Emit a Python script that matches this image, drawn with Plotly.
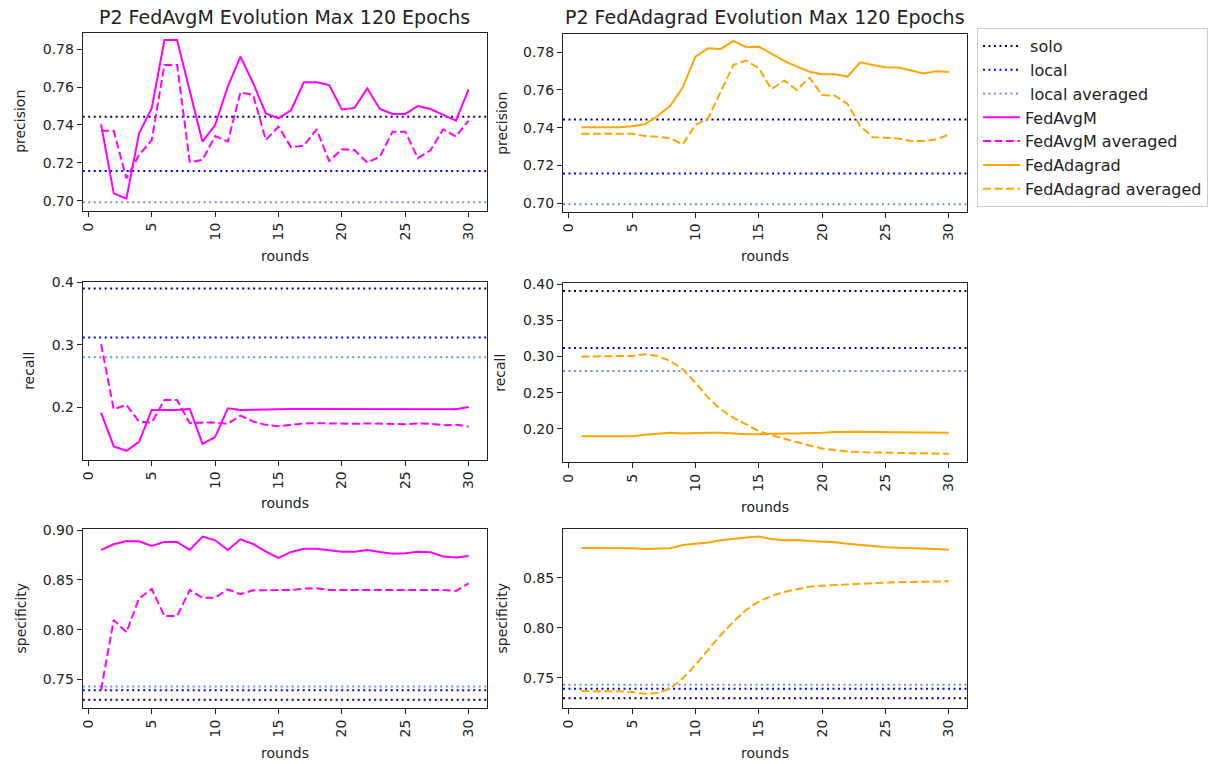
import plotly.graph_objects as go

W, H = 1215, 764
rounds = list(range(1, 31))

# reference lines (solo, local, local averaged)
ref_precision = [0.7443, 0.7157, 0.6993]
ref_recall = [0.3902, 0.3115, 0.2800]
ref_specificity = [0.7295, 0.7390, 0.7428]

fedavgm_precision = [0.7404, 0.7040, 0.7012, 0.7356, 0.7488, 0.7847, 0.7847, 0.7584, 0.7312, 0.7400,
                     0.7602, 0.7760, 0.7620, 0.7461, 0.7435, 0.7479, 0.7625, 0.7625, 0.7610, 0.7482,
                     0.7490, 0.7593, 0.7484, 0.7458, 0.7458, 0.7500, 0.7484, 0.7453, 0.7423, 0.7588]
fedavgm_precision_avg = [0.7370, 0.7370, 0.7119, 0.7242, 0.7321, 0.7716, 0.7716, 0.7204, 0.7216, 0.7342,
                         0.7312, 0.7572, 0.7558, 0.7321, 0.7391, 0.7282, 0.7291, 0.7377, 0.7210, 0.7272,
                         0.7268, 0.7202, 0.7233, 0.7365, 0.7365, 0.7225, 0.7268, 0.7377, 0.7339, 0.7423]
fedadagrad_precision = [0.7402, 0.7402, 0.7402, 0.7402, 0.7407, 0.7418, 0.7462, 0.7515, 0.7614, 0.7777,
                        0.7821, 0.7818, 0.7860, 0.7827, 0.7830, 0.7791, 0.7754, 0.7724, 0.7697, 0.7683,
                        0.7683, 0.7671, 0.7747, 0.7733, 0.7720, 0.7719, 0.7703, 0.7688, 0.7699, 0.7696]
fedadagrad_precision_avg = [0.7368, 0.7368, 0.7368, 0.7368, 0.7368, 0.7356, 0.7352, 0.7343, 0.7312, 0.7414,
                            0.7450, 0.7591, 0.7733, 0.7756, 0.7715, 0.7604, 0.7650, 0.7600, 0.7665, 0.7573,
                            0.7570, 0.7526, 0.7409, 0.7349, 0.7347, 0.7343, 0.7329, 0.7329, 0.7338, 0.7363]

fedavgm_recall = [0.1915, 0.1372, 0.1303, 0.1447, 0.1957, 0.1957, 0.1957, 0.1973, 0.1415, 0.1521,
                  0.1984, 0.1957, 0.1960, 0.1973, 0.1968, 0.1970, 0.1970, 0.1970, 0.1970, 0.1972,
                  0.1972, 0.1970, 0.1972, 0.1972, 0.1972, 0.1972, 0.1972, 0.1970, 0.1968, 0.2005]
fedavgm_recall_avg = [0.3010, 0.1968, 0.2037, 0.1771, 0.1755, 0.2117, 0.2117, 0.1745, 0.1755, 0.1755,
                      0.1734, 0.1867, 0.1771, 0.1718, 0.1697, 0.1718, 0.1740, 0.1745, 0.1740, 0.1734,
                      0.1734, 0.1740, 0.1734, 0.1723, 0.1728, 0.1740, 0.1734, 0.1713, 0.1718, 0.1691]
fedadagrad_recall = [0.1898, 0.1898, 0.1898, 0.1898, 0.1898, 0.1917, 0.1931, 0.1945, 0.1935, 0.1945,
                     0.1945, 0.1945, 0.1931, 0.1926, 0.1926, 0.1935, 0.1935, 0.1935, 0.1935, 0.1945,
                     0.1954, 0.1958, 0.1958, 0.1954, 0.1954, 0.1950, 0.1950, 0.1950, 0.1945, 0.1945]
fedadagrad_recall_avg = [0.2998, 0.2998, 0.2998, 0.2998, 0.3007, 0.3030, 0.3007, 0.2938, 0.2822, 0.2637,
                         0.2430, 0.2268, 0.2152, 0.2060, 0.1968, 0.1912, 0.1861, 0.1815, 0.1769, 0.1727,
                         0.1704, 0.1686, 0.1677, 0.1672, 0.1667, 0.1667, 0.1663, 0.1663, 0.1658, 0.1654]

fedavgm_specificity = [0.8802, 0.8859, 0.8893, 0.8889, 0.8842, 0.8883, 0.8883, 0.8802, 0.8936, 0.8899,
                       0.8802, 0.8909, 0.8862, 0.8785, 0.8721, 0.8782, 0.8815, 0.8815, 0.8799, 0.8785,
                       0.8785, 0.8802, 0.8782, 0.8765, 0.8768, 0.8785, 0.8779, 0.8735, 0.8725, 0.8742]
fedavgm_specificity_avg = [0.7393, 0.8097, 0.7973, 0.8315, 0.8409, 0.8138, 0.8138, 0.8399, 0.8319, 0.8322,
                           0.8406, 0.8356, 0.8396, 0.8399, 0.8399, 0.8399, 0.8413, 0.8416, 0.8399, 0.8399,
                           0.8399, 0.8399, 0.8399, 0.8399, 0.8399, 0.8399, 0.8399, 0.8399, 0.8389, 0.8466]
fedadagrad_specificity = [0.8801, 0.8801, 0.8801, 0.8801, 0.8798, 0.8791, 0.8791, 0.8798, 0.8831, 0.8841,
                          0.8855, 0.8878, 0.8895, 0.8905, 0.8915, 0.8891, 0.8878, 0.8881, 0.8871, 0.8865,
                          0.8858, 0.8844, 0.8831, 0.8821, 0.8808, 0.8804, 0.8801, 0.8794, 0.8791, 0.8784]
fedadagrad_specificity_avg = [0.7366, 0.7366, 0.7366, 0.7363, 0.7356, 0.7339, 0.7346, 0.7393, 0.7493, 0.7627,
                              0.7778, 0.7928, 0.8062, 0.8179, 0.8263, 0.8320, 0.8360, 0.8386, 0.8413, 0.8423,
                              0.8430, 0.8436, 0.8443, 0.8450, 0.8453, 0.8457, 0.8460, 0.8463, 0.8467, 0.8467]

x_ticks = [0, 5, 10, 15, 20, 25, 30]
ref_names = [" solo", " local", " local averaged"]
ref_colors = ["#000080", "#0000FF", "#6495ED"]
C_AVGM = "#FF00FF"
C_ADA = "#FFA500"
FONT = "DejaVu Sans"
DOT = "2px,3.5px"
DASH = "8px,3.5px"

# pixel boxes (left, right, top, bottom)
boxes = {
    (0, 0): (82.7, 487.0, 32.7, 211.0),
    (0, 1): (563.0, 967.3, 34.0, 211.7),
    (1, 0): (82.7, 487.0, 282.0, 459.7),
    (1, 1): (563.0, 967.3, 283.3, 462.3),
    (2, 0): (82.7, 487.0, 529.0, 708.0),
    (2, 1): (563.0, 967.3, 529.0, 708.0),
}
yranges = {
    (0, 0): [0.6947, 0.7886], (0, 1): [0.6954, 0.7897],
    (1, 0): [0.1160, 0.4005], (1, 1): [0.1537, 0.4010],
    (2, 0): [0.7211, 0.9013], (2, 1): [0.7196, 0.8991],
}
yticks = {
    (0, 0): ([0.70, 0.72, 0.74, 0.76, 0.78], ".2f"), (0, 1): ([0.70, 0.72, 0.74, 0.76, 0.78], ".2f"),
    (1, 0): ([0.2, 0.3, 0.4], ".1f"), (1, 1): ([0.20, 0.25, 0.30, 0.35, 0.40], ".2f"),
    (2, 0): ([0.75, 0.80, 0.85, 0.90], ".2f"), (2, 1): ([0.75, 0.80, 0.85], ".2f"),
}
metrics = ["precision", "recall", "specificity"]
refs = [ref_precision, ref_recall, ref_specificity]
series = {
    (0, 0): (fedavgm_precision, fedavgm_precision_avg, C_AVGM, "FedAvgM"),
    (0, 1): (fedadagrad_precision, fedadagrad_precision_avg, C_ADA, "FedAdagrad"),
    (1, 0): (fedavgm_recall, fedavgm_recall_avg, C_AVGM, "FedAvgM"),
    (1, 1): (fedadagrad_recall, fedadagrad_recall_avg, C_ADA, "FedAdagrad"),
    (2, 0): (fedavgm_specificity, fedavgm_specificity_avg, C_AVGM, "FedAvgM"),
    (2, 1): (fedadagrad_specificity, fedadagrad_specificity_avg, C_ADA, "FedAdagrad"),
}
ylabel_x = {(0, 0): 20, (0, 1): 502, (1, 0): 29, (1, 1): 500, (2, 0): 20, (2, 1): 501}
xlabel_y = {(0, 0): 256, (0, 1): 256, (1, 0): 503, (1, 1): 507, (2, 0): 753, (2, 1): 753}

fig = go.Figure()
layout = dict(
    width=W, height=H, margin=dict(l=0, r=0, t=0, b=0),
    paper_bgcolor="white", plot_bgcolor="white",
    font=dict(family=FONT, size=14, color="#222222"),
    showlegend=True,
)
annotations = []
idx = 0
legend_shown = set()
order = [(0, 0), (0, 1), (1, 0), (1, 1), (2, 0), (2, 1)]
for (r, c) in order:
    idx += 1
    xa = "x" if idx == 1 else f"x{idx}"
    ya = "y" if idx == 1 else f"y{idx}"
    l, rr, t, b = boxes[(r, c)]
    layout["xaxis" if idx == 1 else f"xaxis{idx}"] = dict(
        domain=[l / W, rr / W], anchor=ya, range=[-0.45, 31.45],
        tickvals=x_ticks, tickangle=-90, ticks="outside", ticklen=5, tickcolor="#222222",
        showline=True, linecolor="#222222", linewidth=1, mirror=True, showgrid=False,
        zeroline=False, tickfont=dict(size=14, family=FONT), automargin=False,
    )
    tv, fmt = yticks[(r, c)]
    layout["yaxis" if idx == 1 else f"yaxis{idx}"] = dict(
        domain=[1 - b / H, 1 - t / H], anchor=xa, range=yranges[(r, c)],
        tickvals=tv, tickformat=fmt, ticks="outside", ticklen=5, tickcolor="#222222",
        showline=True, linecolor="#222222", linewidth=1, mirror=True, showgrid=False,
        zeroline=False, tickfont=dict(size=14, family=FONT), automargin=False,
    )
    refvals = refs[r]
    for k in range(3):
        show = ("ref", k) not in legend_shown
        legend_shown.add(("ref", k))
        fig.add_trace(go.Scatter(
            x=[-0.45, 31.45], y=[refvals[k], refvals[k]], mode="lines",
            line=dict(color=ref_colors[k], width=2, dash=DOT),
            name=ref_names[k], legendgroup=ref_names[k], showlegend=show,
            xaxis=xa, yaxis=ya, legendrank=k + 1,
        ))
    main, avg, col, nm = series[(r, c)]
    base = 4 if nm == "FedAvgM" else 6
    show = nm not in legend_shown
    legend_shown.add(nm)
    fig.add_trace(go.Scatter(
        x=rounds, y=main, mode="lines", line=dict(color=col, width=2),
        name=nm, legendgroup=nm, showlegend=show, xaxis=xa, yaxis=ya, legendrank=base,
    ))
    fig.add_trace(go.Scatter(
        x=rounds, y=avg, mode="lines", line=dict(color=col, width=2, dash=DASH),
        name=nm + " averaged", legendgroup=nm + "avg", showlegend=show, xaxis=xa, yaxis=ya,
        legendrank=base + 1,
    ))
    annotations.append(dict(
        text=metrics[r], x=ylabel_x[(r, c)] / W, y=1 - ((t + b) / 2) / H,
        xref="paper", yref="paper", showarrow=False, textangle=-90,
        font=dict(size=14, family=FONT, color="#222222"), xanchor="center", yanchor="middle",
    ))
    annotations.append(dict(
        text="rounds", x=((l + rr) / 2) / W, y=1 - xlabel_y[(r, c)] / H,
        xref="paper", yref="paper", showarrow=False,
        font=dict(size=14, family=FONT, color="#222222"), xanchor="center", yanchor="middle",
    ))

annotations.append(dict(text="P2 FedAvgM Evolution Max 120 Epochs", x=((82.7 + 487) / 2) / W, y=1 - 17 / H,
                        xref="paper", yref="paper", showarrow=False,
                        font=dict(size=19, family=FONT, color="#222222"), xanchor="center", yanchor="middle"))
annotations.append(dict(text="P2 FedAdagrad Evolution Max 120 Epochs", x=((563 + 967.3) / 2) / W, y=1 - 17 / H,
                        xref="paper", yref="paper", showarrow=False,
                        font=dict(size=19, family=FONT, color="#222222"), xanchor="center", yanchor="middle"))

layout["annotations"] = annotations
layout["legend"] = dict(
    x=977 / W, y=1 - 28 / H, xanchor="left", yanchor="top",
    bordercolor="#cccccc", borderwidth=1, bgcolor="white",
    font=dict(size=16, family=FONT, color="#222222"), tracegroupgap=0,
    traceorder="grouped", itemwidth=37,
)
fig.update_layout(**layout)
fig.write_html("out.html")
